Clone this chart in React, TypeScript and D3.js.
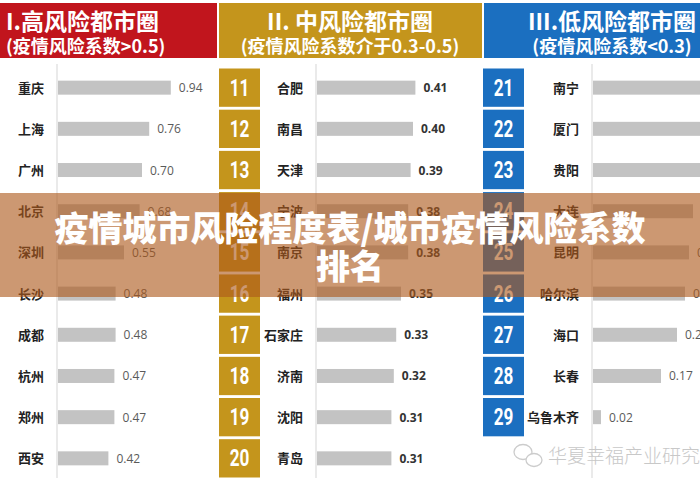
import React from "react";
import * as d3 from "d3";

// header panels
const groupTitles = ["I.高风险都市圈", "II. 中风险都市圈", "III.低风险都市圈"];
const groupSubtitles = [
  "(疫情风险系数>0.5)",
  "(疫情风险系数介于0.3-0.5)",
  "(疫情风险系数<0.3)",
];
const groupColors = ["#c1151d", "#c4951c", "#1b6fc0"];
const groupMax = [1.0, 0.5, 0.3];

// high risk 1-10
const highRanks = [1, 2, 3, 4, 5, 6, 7, 8, 9, 10];
const highCities = ["重庆", "上海", "广州", "北京", "深圳", "长沙", "成都", "杭州", "郑州", "西安"];
const highValues = [0.94, 0.76, 0.7, 0.68, 0.55, 0.48, 0.48, 0.47, 0.47, 0.42];

// medium risk 11-20
const midRanks = [11, 12, 13, 14, 15, 16, 17, 18, 19, 20];
const midCities = ["合肥", "南昌", "天津", "宁波", "南京", "福州", "石家庄", "济南", "沈阳", "青岛"];
const midValues = [0.41, 0.4, 0.39, 0.38, 0.38, 0.35, 0.33, 0.32, 0.31, 0.31];

// low risk 21-29
const lowRanks = [21, 22, 23, 24, 25, 26, 27, 28, 29];
const lowCities = ["南宁", "厦门", "贵阳", "大连", "昆明", "哈尔滨", "海口", "长春", "乌鲁木齐"];
const lowValues = [0.29, 0.28, 0.27, 0.25, 0.24, 0.23, 0.21, 0.17, 0.02];

const titleLines = ["疫情城市风险程度表/城市疫情风险系数", "排名"];
const watermark = "华夏幸福产业研究院";

const W = 700;
const H = 490;
const CJK = "'Noto Sans CJK SC', 'Noto Sans', sans-serif";
const NUM = "'Roboto', 'DejaVu Sans', sans-serif";

const groups = [
  { ranks: highRanks, cities: highCities, values: highValues, x0: 0, x1: 217, titleX: 6, anchor: "start", rankX: null, labelRight: 44, axisX: 57, labelBold: false },
  { ranks: midRanks, cities: midCities, values: midValues, x0: 219, x1: 482, titleX: 350, anchor: "middle", rankX: 219, labelRight: 303, axisX: 316, labelBold: true },
  { ranks: lowRanks, cities: lowCities, values: lowValues, x0: 484, x1: W, titleX: 612, anchor: "middle", rankX: 483, labelRight: 579, axisX: 592, labelBold: false },
];

export default function App() {
  const row = d3.scaleBand<number>().domain(d3.range(10)).range([68.5, 477.5]).paddingInner(0.07);
  const fmt = d3.format(".2f");

  return (
    <svg
      width={W}
      height={H}
      viewBox={`0 0 ${W} ${H}`}
      style={{ position: "absolute", left: 0, top: 0, display: "block", background: "#fff" }}
    >
      <rect x={0} y={0} width={W} height={H} fill="#fff" />

      {groups.map((g, gi) => {
        const x = d3.scaleLinear().domain([0, groupMax[gi]]).range([0, 120]);
        return (
          <g key={gi}>
            {/* header */}
            <rect x={g.x0} y={3} width={g.x1 - g.x0} height={55} fill={groupColors[gi]} />
            <text
              x={g.titleX}
              y={30}
              fill="#fff"
              fontFamily={CJK}
              fontWeight={700}
              fontSize={23}
              textAnchor={g.anchor}
            >
              {groupTitles[gi]}
            </text>
            <text
              x={g.titleX}
              y={53}
              fill="#fff"
              fontFamily={CJK}
              fontWeight={700}
              fontSize={18}
              textAnchor={g.anchor}
            >
              {groupSubtitles[gi]}
            </text>

            {/* axis line */}
            <line x1={g.axisX} x2={g.axisX} y1={64} y2={478} stroke="#dcdcdc" strokeWidth={1.2} />

            {g.cities.map((c, i) => {
              const cy = row(i)! + row.bandwidth() / 2;
              const w = x(g.values[i]);
              return (
                <g key={c}>
                  {g.rankX !== null && (
                    <>
                      <rect
                        x={g.rankX}
                        y={row(i)!}
                        width={41}
                        height={row.bandwidth()}
                        fill={groupColors[gi]}
                      />
                      <text
                        transform={`translate(${g.rankX + 20.5},${cy + 8}) scale(0.78,1.08)`}
                        fill="#fff"
                        fontFamily={NUM}
                        fontWeight={700}
                        fontSize={22}
                        textAnchor="middle"
                      >
                        {g.ranks[i]}
                      </text>
                    </>
                  )}
                  <text
                    x={g.labelRight}
                    y={cy + 5}
                    fill="#222"
                    fontFamily={CJK}
                    fontWeight={700}
                    fontSize={13}
                    textAnchor="end"
                  >
                    {c}
                  </text>
                  <rect x={g.axisX + 1} y={cy - 7} width={w} height={14} fill="#c3c3c3" />
                  <text
                    x={g.axisX + 1 + w + 8}
                    y={cy + 4.5}
                    fill={g.labelBold ? "#333" : "#5a5a5a"}
                    fontFamily="'Open Sans', sans-serif"
                    fontWeight={g.labelBold ? 700 : 400}
                    fontSize={12}
                  >
                    {fmt(g.values[i])}
                  </text>
                </g>
              );
            })}
          </g>
        );
      })}

      {/* watermark */}
      <g fill="none" stroke="#cccccc" strokeWidth={1.3}>
        <ellipse cx={523} cy={452} rx={9} ry={7.5} />
        <ellipse cx={534} cy={460} rx={8} ry={6.5} fill="#fff" />
      </g>
      <text x={548} y={463} fill="#c8c8c8" fontFamily={CJK} fontWeight={300} fontSize={19}>
        {watermark}
      </text>

      {/* overlay banner */}
      <rect x={0} y={193} width={W} height={104} fill="rgb(172,88,28)" fillOpacity={0.62} />
      {titleLines.map((t, i) => (
        <text
          key={t}
          x={W / 2}
          y={241 + i * 38}
          fill="#fff"
          fontFamily={CJK}
          fontWeight={900}
          fontSize={34}
          textAnchor="middle"
        >
          {t}
        </text>
      ))}
    </svg>
  );
}
